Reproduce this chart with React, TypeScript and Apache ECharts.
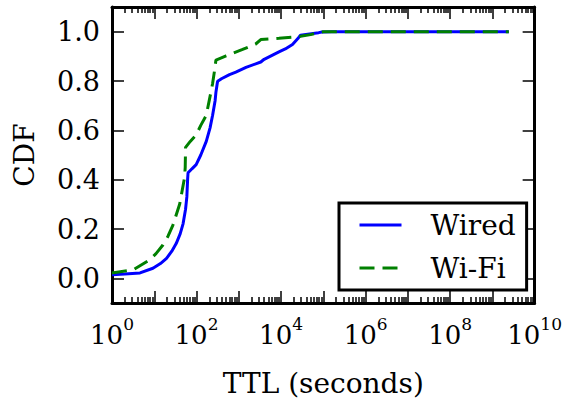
import React, { useEffect, useRef } from "react";
import * as echarts from "echarts";

// TTL in seconds, CDF values
const wiredTTL = [1, 2, 4.6, 9.3, 14, 19.5, 26, 33, 41, 48, 55, 59, 61.5, 63, 79, 98, 126, 170, 209, 240, 275, 288, 309, 316, 398, 603, 851, 1480, 3311, 3981, 8913, 12589, 18620, 25000, 28840, 77600, 93000, 160000, 2450000000];
const wiredCDF = [0.015, 0.018, 0.022, 0.041, 0.06, 0.081, 0.11, 0.141, 0.18, 0.221, 0.28, 0.33, 0.4, 0.428, 0.445, 0.461, 0.5, 0.555, 0.61, 0.661, 0.72, 0.755, 0.79, 0.799, 0.81, 0.826, 0.836, 0.855, 0.877, 0.888, 0.918, 0.93, 0.948, 0.972, 0.986, 0.996, 0.999, 1.0, 1.0];

const wifiTTL = [1, 3.2, 7.8, 11, 16, 21, 27.5, 40, 52, 54, 55, 71, 98, 126, 170, 219, 240, 263, 288, 501, 1230, 2512, 3311, 8913, 28840, 50000, 77600, 100000, 2450000000];
const wifiCDF = [0.022, 0.035, 0.075, 0.1, 0.135, 0.17, 0.215, 0.301, 0.408, 0.45, 0.531, 0.555, 0.581, 0.62, 0.661, 0.755, 0.79, 0.835, 0.885, 0.902, 0.928, 0.95, 0.968, 0.973, 0.981, 0.988, 0.997, 1.0, 1.0];

const seriesNames = ["Wired", "Wi-Fi"];
const xMajorTicks = [1, 1e1, 1e2, 1e3, 1e4, 1e5, 1e6, 1e7, 1e8, 1e9, 1e10];
const xLabelTicks = [1, 1e2, 1e4, 1e6, 1e8, 1e10];
const yTicks = [0, 0.2, 0.4, 0.6, 0.8, 1.0];

const xMinorTicks: number[] = [];
for (let e = 0; e < 10; e++) {
  for (let m = 2; m <= 9; m++) xMinorTicks.push(m * Math.pow(10, e));
}

const FONT = "DejaVu Serif";
const FS = 28;

export default function App() {
  const ref = useRef<HTMLDivElement>(null);
  useEffect(() => {
    if (!ref.current) return;
    const chart = echarts.init(ref.current, undefined, { renderer: "svg" });
    const axisLine = { show: true, onZero: false, lineStyle: { color: "#000", width: 3 } };
    const noLine = { show: false, onZero: false };
    const tickStyle = { color: "#000", width: 1.5 };
    const baseX = {
      type: "log" as const,
      logBase: 10,
      min: 1,
      max: 1e10,
      gridIndex: 0,
      splitLine: { show: false },
    };
    const baseY = {
      type: "value" as const,
      min: -0.1,
      max: 1.1,
      splitLine: { show: false },
    };
    chart.setOption({
      animation: false,
      grid: { left: 112, right: 28, top: 7, bottom: 95, containLabel: false },
      xAxis: [
        {
          ...baseX,
          position: "bottom",
          axisLine,
          axisTick: { show: true, inside: true, length: 12, lineStyle: tickStyle, customValues: xMajorTicks },
          axisLabel: {
            show: true,
            margin: 12,
            customValues: xLabelTicks,
            formatter: (v: number) => `{b|10}{s|${Math.round(Math.log10(v))}}`,
            rich: {
              b: { fontSize: 26, fontFamily: FONT, color: "#000", lineHeight: 40 },
              s: { fontSize: 17, fontFamily: FONT, color: "#000", lineHeight: 16, verticalAlign: "top" },
            },
          },
          name: "TTL (seconds)",
          nameLocation: "middle",
          nameGap: 66,
          nameTextStyle: { fontSize: FS, fontFamily: FONT, color: "#000" },
        },
        {
          ...baseX,
          position: "bottom",
          axisLine: noLine,
          axisTick: { show: true, inside: true, length: 6, lineStyle: tickStyle, customValues: xMinorTicks },
          axisLabel: { show: false },
        },
        {
          ...baseX,
          position: "top",
          axisLine,
          axisTick: { show: true, inside: true, length: 12, lineStyle: tickStyle, customValues: xMajorTicks },
          axisLabel: { show: false },
        },
        {
          ...baseX,
          position: "top",
          axisLine: noLine,
          axisTick: { show: true, inside: true, length: 6, lineStyle: tickStyle, customValues: xMinorTicks },
          axisLabel: { show: false },
        },
      ],
      yAxis: [
        {
          ...baseY,
          position: "left",
          axisLine,
          axisTick: { show: true, inside: true, length: 12, lineStyle: tickStyle, customValues: yTicks },
          axisLabel: {
            show: true,
            margin: 12,
            customValues: yTicks,
            formatter: (v: number) => v.toFixed(1),
            fontSize: 27,
            fontFamily: FONT,
            color: "#000",
          },
          name: "CDF",
          nameLocation: "middle",
          nameGap: 74,
          nameTextStyle: { fontSize: FS, fontFamily: FONT, color: "#000" },
        },
        {
          ...baseY,
          position: "right",
          axisLine,
          axisTick: { show: true, inside: true, length: 12, lineStyle: tickStyle, customValues: yTicks },
          axisLabel: { show: false },
        },
      ],
      legend: {
        orient: "vertical",
        left: 339,
        top: 203,
        padding: [8, 11, 8, 19],
        itemGap: 15,
        itemWidth: 42,
        itemHeight: 14,
        borderColor: "#000",
        borderWidth: 3,
        borderRadius: 0,
        backgroundColor: "#fff",
        data: seriesNames,
        itemStyle: { opacity: 0 },
        lineStyle: { width: 3 },
        textStyle: { fontSize: FS, lineHeight: 28, fontFamily: FONT, color: "#000", padding: [0, 0, 0, 24] },
      },
      series: [
        {
          name: seriesNames[0],
          type: "line",
          xAxisIndex: 0,
          yAxisIndex: 0,
          showSymbol: false,
          symbol: "none",
          smooth: false,
          data: wiredTTL.map((t, i) => [t, wiredCDF[i]]),
          lineStyle: { color: "#0000ff", width: 3 },
          itemStyle: { color: "#0000ff" },
          z: 3,
        },
        {
          name: seriesNames[1],
          type: "line",
          xAxisIndex: 0,
          yAxisIndex: 0,
          showSymbol: false,
          symbol: "none",
          smooth: false,
          data: wifiTTL.map((t, i) => [t, wifiCDF[i]]),
          lineStyle: { color: "#008000", width: 3, type: [15, 8] },
          itemStyle: { color: "#008000" },
          z: 4,
        },
      ],
    });
    return () => chart.dispose();
  }, []);
  return (
    <div
      ref={ref}
      style={{ position: "fixed", left: 0, top: 0, width: 565, height: 402, background: "#fff" }}
    />
  );
}
